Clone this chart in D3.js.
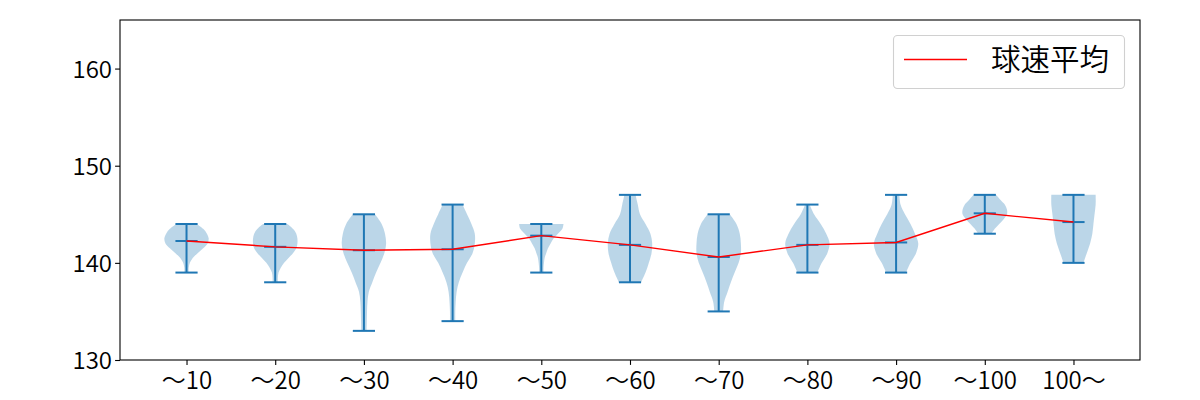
<!DOCTYPE html>
<html><head><meta charset="utf-8">
<script src="https://cdn.jsdelivr.net/npm/d3@7"></script>
<style>body{margin:0;background:#fff}</style>
</head><body>
<svg id="c" width="1200" height="400"></svg>
<script>
const categories = ["〜10","〜20","〜30","〜40","〜50","〜60","〜70","〜80","〜90","〜100","100〜"];
const minVals  = [139,138,133,134,139,138,135,139,139,143,140];
const maxVals  = [144,144,145,146,144,147,145,146,147,147,147];
const meanVals = [142.25,141.65,141.3,141.4,142.8,141.85,140.6,141.85,142.1,145.1,144.2];
// relative violin widths, sampled evenly from min to max
const densities = [
  [0.1,0.1,0.15,0.28,0.5,0.75,0.95,1.0,0.92,0.75,0.45],
  [0.12,0.12,0.15,0.25,0.4,0.6,0.8,0.95,1.0,1.0,0.95,0.8,0.55],
  [0.12,0.13,0.14,0.16,0.22,0.38,0.55,0.75,0.92,1.0,0.95,0.8,0.5],
  [0.12,0.12,0.14,0.18,0.28,0.45,0.65,0.9,1.0,1.0,0.85,0.65,0.45],
  [0.1,0.1,0.12,0.15,0.22,0.3,0.42,0.55,0.75,0.95,1.0],
  [0.5,0.7,0.85,0.97,1.0,0.92,0.7,0.45,0.35,0.25],
  [0.2,0.25,0.4,0.55,0.72,0.9,1.0,1.0,0.95,0.8,0.5],
  [0.45,0.65,0.9,1.0,0.85,0.6,0.3,0.1],
  [0.45,0.65,0.9,1.0,0.85,0.65,0.4,0.2,0.15],
  [0.3,0.45,0.65,0.85,1.0,1.0,0.9,0.7,0.5],
  [0.45,0.6,0.75,0.85,0.9,0.95,1.0,1.0]
];
const yTicks = [130,140,150,160];
const legendLabel = "球速平均";

const svg = d3.select("#c");
const L=120, R=1140, T=20, B=360;
const x = d3.scaleLinear().domain([0.25, 11.75]).range([L, R]);
const y = d3.scaleLinear().domain([130, 165]).range([B, T]);
const blue = "#1f77b4";
const font = "'Noto Sans CJK JP', 'Noto Sans', sans-serif";
const halfW = x(1.25) - x(1);
const capW = x(1.125) - x(1);

const g = svg.append("g");
// violins
categories.forEach((c, i) => {
  const pos = i + 1;
  const d = densities[i];
  const n = d.length;
  const pts = d.map((w, k) => ({v: minVals[i] + (maxVals[i]-minVals[i]) * k/(n-1), w}));
  const area = d3.area()
    .y(p => y(p.v))
    .x0(p => x(pos) - p.w*halfW)
    .x1(p => x(pos) + p.w*halfW)
    .curve(d3.curveCatmullRom);
  g.append("path").attr("d", area(pts)).attr("fill", blue).attr("fill-opacity", 0.3);
});
// lines
categories.forEach((c, i) => {
  const cx = x(i+1);
  const ln = (x1,y1,x2,y2) => g.append("line").attr("x1",x1).attr("y1",y1).attr("x2",x2).attr("y2",y2).attr("stroke",blue).attr("stroke-width",2);
  ln(cx, y(minVals[i]), cx, y(maxVals[i]));
  ln(cx-capW, y(minVals[i]), cx+capW, y(minVals[i]));
  ln(cx-capW, y(maxVals[i]), cx+capW, y(maxVals[i]));
  ln(cx-capW, y(meanVals[i]), cx+capW, y(meanVals[i]));
});
// mean line
g.append("path")
  .attr("d", d3.line().x((v,i)=>x(i+1)).y(v=>y(v))(meanVals))
  .attr("fill","none").attr("stroke","red").attr("stroke-width",1.4);

// axes
const yAxis = svg.append("g").attr("transform",`translate(${L},0)`)
  .call(d3.axisLeft(y).tickValues(yTicks).tickSize(4.9).tickPadding(5).tickFormat(d3.format("d")));
const xAxis = svg.append("g").attr("transform",`translate(0,${B})`)
  .call(d3.axisBottom(x).tickValues(d3.range(1,12)).tickSize(4.9).tickPadding(5).tickFormat((d,i)=>categories[i]));
[yAxis, xAxis].forEach(a => {
  a.select(".domain").remove();
  a.selectAll(".tick line").attr("stroke","#000").attr("stroke-width",1.1);
  a.selectAll(".tick text").attr("font-family",font).attr("font-size",24).attr("font-weight",350).attr("fill","#000");
});
yAxis.selectAll(".tick text").attr("dy","0.36em").attr("x",-8);
xAxis.selectAll(".tick text").attr("dy","0.8em");

svg.append("rect").attr("x",L).attr("y",T).attr("width",R-L).attr("height",B-T)
  .attr("fill","none").attr("stroke","#000").attr("stroke-width",1.1);

// legend
const lg = svg.append("g");
lg.append("rect").attr("x",893.5).attr("y",35.5).attr("width",231).attr("height",53).attr("rx",4)
  .attr("fill","#fff").attr("fill-opacity",0.8).attr("stroke","#d0d0d0").attr("stroke-width",1.1);
lg.append("line").attr("x1",904).attr("x2",967).attr("y1",59.5).attr("y2",59.5).attr("stroke","red").attr("stroke-width",1.4);
lg.append("text").attr("x",991).attr("y",70).attr("font-family",font).attr("font-size",29.5).attr("font-weight",350).attr("fill","#000").text(legendLabel);
</script>
</body></html>
